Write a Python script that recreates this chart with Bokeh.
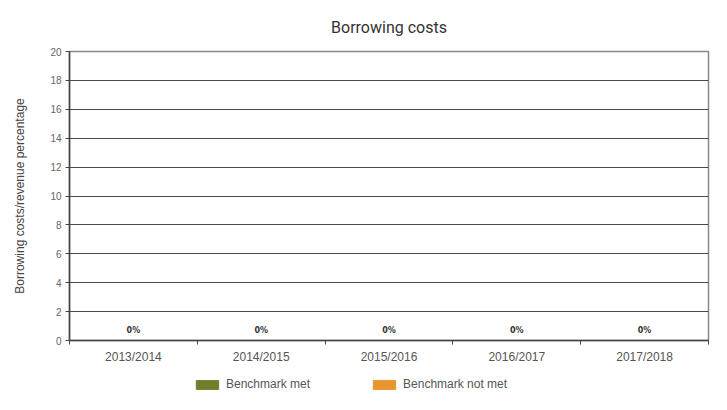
from bokeh.plotting import figure
from bokeh.layouts import column
from bokeh.models import (Range1d, FixedTicker, Legend, LegendItem, ColumnDataSource, LabelSet)
from bokeh.core.properties import value
from bokeh.embed import file_html
from bokeh.resources import INLINE

categories = ["2013/2014", "2014/2015", "2015/2016", "2016/2017", "2017/2018"]
values = [0, 0, 0, 0, 0]
labels = ["0%", "0%", "0%", "0%", "0%"]
y_ticks = [0, 2, 4, 6, 8, 10, 12, 14, 16, 18, 20]
series = ["Benchmark met", "Benchmark not met"]
colors = ["#6e7f2c", "#e9952f"]

FONT = "Liberation Sans"

xs = [i + 0.5 for i in range(len(categories))]
src = ColumnDataSource(dict(x=xs, top=values, label=labels, cat=categories))

p = figure(width=727, height=366, output_backend="svg", toolbar_location=None,
           x_range=Range1d(0, len(categories)), y_range=Range1d(0, 20),
           min_border_left=69, min_border_right=19, min_border_top=50, min_border_bottom=25)

p.title.text = "Borrowing costs"
p.title.align = "center"
p.title.text_font = "Roboto"
p.title.text_font_size = "16px"
p.title.text_font_style = "normal"
p.title.text_color = "#333333"
p.title.standoff = 30

p.vbar(x="x", top="top", bottom=0, width=0.5, source=src, color=colors[0])
p.vbar(x="x", top="top", bottom=0, width=0.5, source=src, color=colors[1])

lbl = LabelSet(x="x", y="top", text="label", source=src, text_align="center",
               text_baseline="bottom", y_offset=6, text_font_size="8px",
               text_font_style="bold", text_color="#333333", text_font=value("DejaVu Sans"))
p.add_layout(lbl)

# x axis
p.xaxis.ticker = FixedTicker(ticks=xs, minor_ticks=list(range(len(categories) + 1)))
p.xaxis.major_label_overrides = {x: c for x, c in zip(xs, categories)}
p.xaxis.major_tick_line_color = None
p.xaxis.minor_tick_line_color = "#444444"
p.xaxis.minor_tick_out = 4
p.xaxis.minor_tick_in = 0
p.xaxis.axis_line_color = "#444444"
p.xaxis.axis_line_width = 1.5
p.xaxis.major_label_text_font = FONT
p.xaxis.major_label_text_font_size = "12px"
p.xaxis.major_label_text_color = "#555555"
p.xaxis.major_label_standoff = 3

# y axis
p.yaxis.ticker = FixedTicker(ticks=y_ticks, minor_ticks=[])
p.yaxis.axis_label = "Borrowing costs/revenue percentage"
p.yaxis.axis_label_text_font = FONT
p.yaxis.axis_label_text_font_size = "12px"
p.yaxis.axis_label_text_font_style = "normal"
p.yaxis.axis_label_text_color = "#444444"
p.yaxis.axis_label_standoff = 20
p.yaxis.major_label_text_font = FONT
p.yaxis.major_label_text_font_size = "10px"
p.yaxis.major_label_text_color = "#666666"
p.yaxis.major_label_standoff = 4
p.yaxis.major_tick_out = 4
p.yaxis.major_tick_in = 0
p.yaxis.major_tick_line_color = "#444444"
p.yaxis.axis_line_color = "#444444"
p.yaxis.axis_line_width = 1.5

p.xgrid.grid_line_color = None
p.ygrid.grid_line_color = "#4a4a4a"
p.ygrid.grid_line_width = 1
p.outline_line_color = "#888888"
p.outline_line_width = 1.5

# legend strip
lg = figure(width=727, height=44, output_backend="svg", toolbar_location=None,
            x_range=Range1d(100, 101), y_range=Range1d(100, 101), min_border=0)
lg.xaxis.visible = False
lg.yaxis.visible = False
lg.grid.visible = False
lg.outline_line_color = None
lsrc = ColumnDataSource(dict(x=xs, top=values))
r_met = lg.vbar(x="x", top="top", bottom=0, width=0.5, source=lsrc, color=colors[0])
r_not = lg.vbar(x="x", top="top", bottom=0, width=0.5, source=lsrc, color=colors[1])

legend = Legend(items=[LegendItem(label=series[0], renderers=[r_met]),
                       LegendItem(label=series[1], renderers=[r_not])],
                orientation="horizontal", location=(124, 19),
                glyph_width=28, glyph_height=11, spacing=60,
                label_text_font=FONT, label_text_font_size="12px",
                label_text_color="#555555", border_line_color=None,
                background_fill_alpha=0, padding=3, margin=0)
lg.add_layout(legend, "center")

open("out.html", "w").write(file_html(column(p, lg), INLINE))
